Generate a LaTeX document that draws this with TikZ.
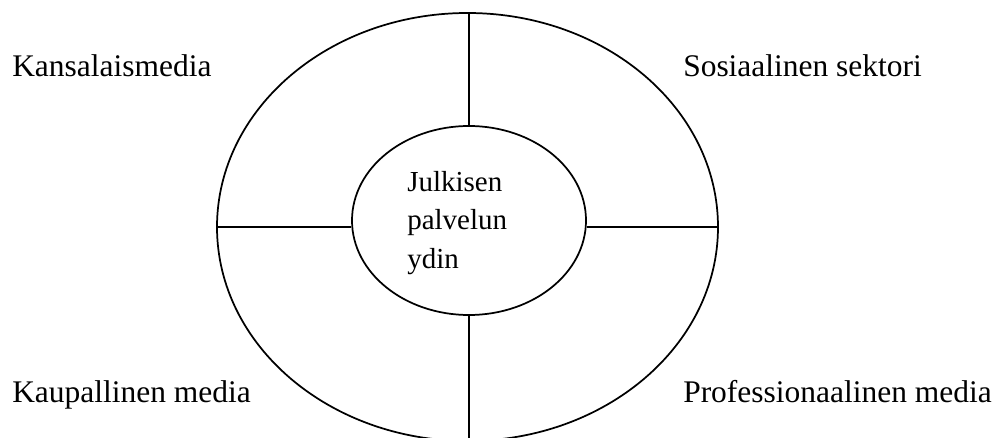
\documentclass[tikz,border=0pt]{standalone}
\usepackage{fontspec}
\setmainfont{Liberation Serif}
\usetikzlibrary{shapes.geometric}
\begin{document}
\begin{tikzpicture}[x=0.75pt,y=-0.75pt,
  ring/.style={draw=black, line width=1.3pt, ellipse, inner sep=0pt},
  divider/.style={draw=black, line width=1.3pt},
  outerlabel/.style={anchor=base west, inner sep=0pt, font=\fontsize{23.6}{28}\selectfont},
  corelabel/.style={anchor=west, inner sep=0pt, align=left, font=\fontsize{21.75}{28.9}\selectfont}]
\useasboundingbox (0,0) rectangle (997,438);
\node[ring, minimum width=501*0.75pt, minimum height=428*0.75pt] (big) at (467.5,227) {};
\node[ring, minimum width=234*0.75pt, minimum height=189*0.75pt, fill=white] (core) at (469,220.5) {};
\draw[divider] (core.north) -- (core.north |- big.north);
\draw[divider] (core.south) -- (core.south |- big.south);
\draw[divider] (big.west) -- (big.west -| core.west);
\draw[divider] (big.east) -- (big.east -| core.east);
\node[corelabel] (coretext) at (407,222.7) {Julkisen\\palvelun\\ydin};
\node[outerlabel] (kansa) at (12,77) {Kansalaismedia};
\node[outerlabel] (sosi) at (683,77) {Sosiaalinen sektori};
\node[outerlabel] (kaup) at (12,403) {Kaupallinen media};
\node[outerlabel] (prof) at (683,403) {Professionaalinen media};
\end{tikzpicture}
\end{document}
